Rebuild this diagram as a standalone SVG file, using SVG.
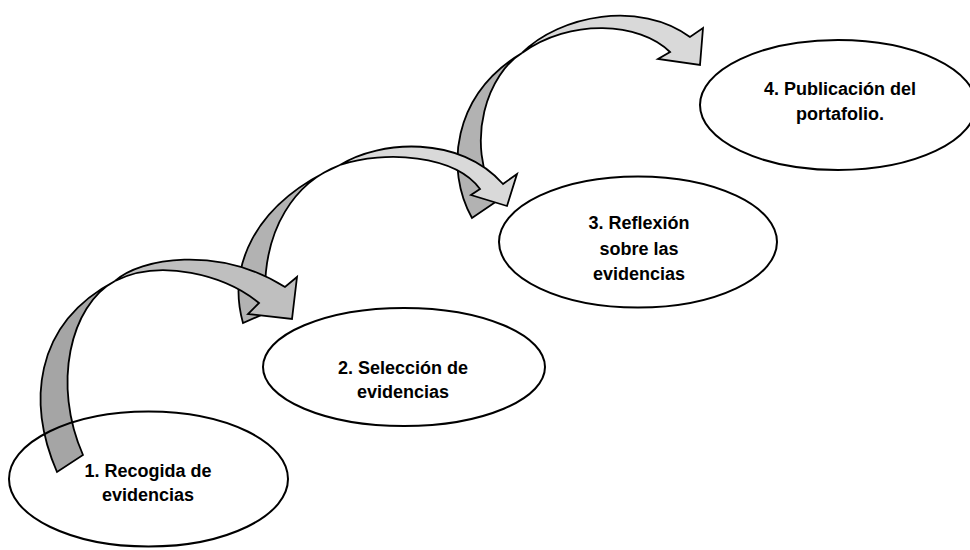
<svg xmlns="http://www.w3.org/2000/svg" width="970" height="550" viewBox="0 0 970 550">
<style>
.arr{stroke:#000;stroke-width:1.8;stroke-linejoin:miter}
.node{fill:none;stroke:#000;stroke-width:2}
.lbl{font-family:"Liberation Sans",Arial,sans-serif;font-weight:bold;font-size:18px;fill:#000;text-anchor:middle}
</style>
<rect width="970" height="550" fill="#fff"/>
<g id="connectors">
  <g id="arrow3">
    <path class="arr" fill="#b2b2b2" d="M472,218 C445,170 452,95 522,53 C490,72 462,140 497,201 Z"/>
    <path class="arr" fill="#d9d9d9" d="M522,53 C560,15 640,0 690,37 L703,28 L700,65 L658,59 L670,52 C640,22 570,18 522,53 Z"/>
  </g>
  <g id="arrow2">
    <path class="arr" fill="#b2b2b2" d="M243,323 C228,270 250,205 340,165 C300,180 258,225 266,313 Z"/>
    <path class="arr" fill="#d9d9d9" d="M340,165 C380,140 460,135 503,184 L517,174 L507,206 L471,195 L480,189 C455,155 385,150 340,165 Z"/>
  </g>
  <g id="arrow1">
    <path class="arr" fill="#a5a5a5" d="M57,472 C28,405 32,325 115,281 C70,305 52,385 83,455 Z"/>
    <path class="arr" fill="#bfbfbf" d="M115,281 C140,258 218,245 285,287 L297,277 L292,319 L248,314 L259,303 C225,275 160,258 115,281 Z"/>
  </g>
</g>
<g id="node1">
  <ellipse class="node" cx="148.5" cy="479" rx="139.5" ry="67.5"/>
  <text class="lbl" x="148" y="477">1. Recogida de</text>
  <text class="lbl" x="148" y="501">evidencias</text>
</g>
<g id="node2">
  <ellipse class="node" cx="404" cy="367" rx="141" ry="59"/>
  <text class="lbl" x="403" y="374">2. Selección de</text>
  <text class="lbl" x="403" y="398">evidencias</text>
</g>
<g id="node3">
  <ellipse class="node" cx="638" cy="242" rx="139" ry="65.5"/>
  <text class="lbl" x="639" y="229">3. Reflexión</text>
  <text class="lbl" x="639" y="255">sobre las</text>
  <text class="lbl" x="639" y="280">evidencias</text>
</g>
<g id="node4">
  <ellipse class="node" cx="838" cy="105" rx="138" ry="65"/>
  <text class="lbl" x="840" y="95">4. Publicación del</text>
  <text class="lbl" x="840" y="120">portafolio.</text>
</g>
</svg>
